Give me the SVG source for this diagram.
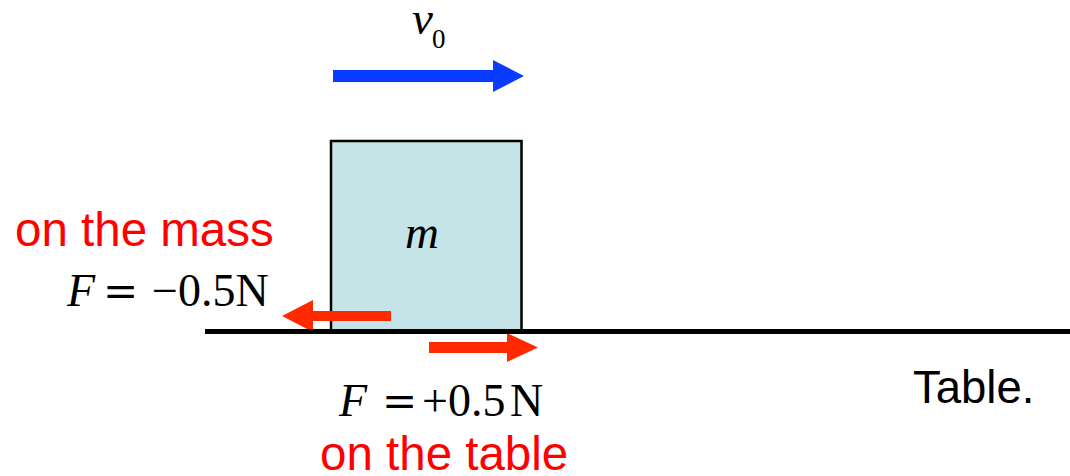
<svg xmlns="http://www.w3.org/2000/svg" width="1070" height="476" viewBox="0 0 1070 476">
<style>
.serif{font-family:"Liberation Serif","Times New Roman",serif;fill:#000}
.it{font-style:italic}
.sans{font-family:"Liberation Sans",Arial,sans-serif}
.red{fill:#ff0000}
.farrow{fill:#ff2a00}
.varrow{fill:#0a3cff}
.eq{font-family:"DejaVu Serif","Liberation Serif",serif}
</style>
<rect width="1070" height="476" fill="#fff"/>
<g id="mass">
<rect x="331" y="141" width="190.5" height="190" fill="#c4e4e7" stroke="#000" stroke-width="2.5"/>
<text class="serif it" x="422" y="248" font-size="47" text-anchor="middle">m</text>
</g>
<g id="connectors">
<polygon class="varrow" points="333,70 493,70 493,60 524,76 493,92 493,82 333,82"/>
<polygon class="farrow" points="391,311 313,311 313,300 282,316 313,332 313,321 391,321"/>
<polygon class="farrow" points="429,342 507,342 507,333 538,347.5 507,362 507,353 429,353"/>
</g>
<g id="table">
<line x1="205" y1="331.5" x2="1070" y2="331.5" stroke="#000" stroke-width="5"/>
<text class="sans" x="913" y="403" font-size="45.5" fill="#000">Table.</text>
</g>
<g id="velocity-label">
<text class="serif it" x="412" y="34" font-size="47">v</text>
<text class="serif" x="432" y="48" font-size="27">0</text>
</g>
<g id="force-on-mass">
<text class="sans red" x="15" y="246" font-size="47.5">on the mass</text>
<text class="serif" y="306" font-size="46"><tspan class="it" x="67">F</tspan><tspan class="eq" x="103" font-size="42">=</tspan><tspan x="152">−0.5N</tspan></text>
</g>
<g id="force-on-table">
<text class="serif" y="416" font-size="46"><tspan class="it" x="339">F</tspan><tspan class="eq" x="382" font-size="42">=</tspan><tspan x="422">+0.5</tspan><tspan x="510">N</tspan></text>
<text class="sans red" x="320" y="470" font-size="47.5">on the table</text>
</g>
</svg>
